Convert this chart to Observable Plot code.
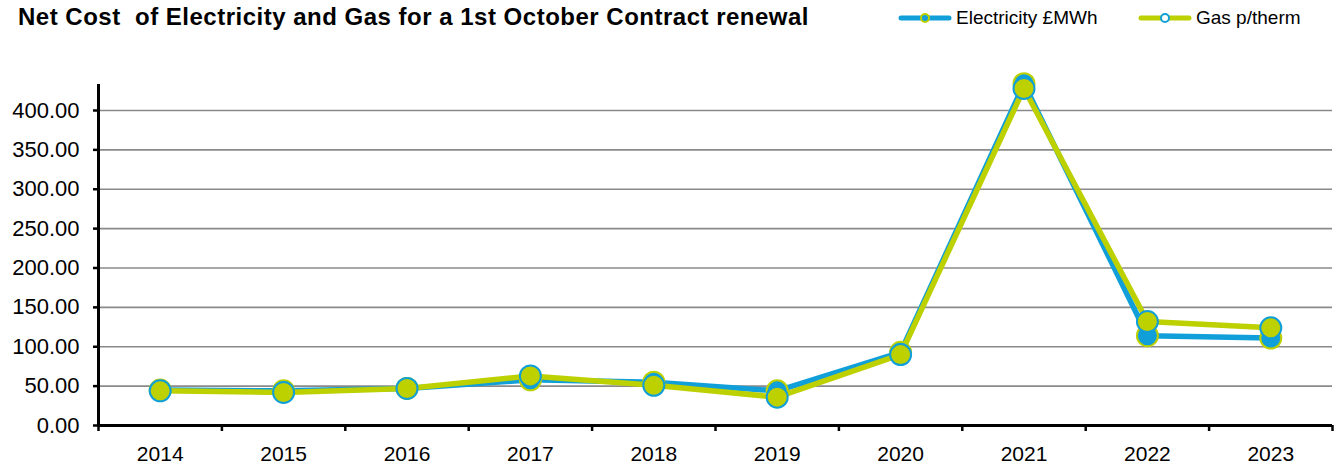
<!DOCTYPE html>
<html>
<head>
<meta charset="utf-8">
<script src="https://cdn.jsdelivr.net/npm/d3@7"></script>
<script src="https://cdn.jsdelivr.net/npm/@observablehq/plot@0.6"></script>
<style>
  html, body { margin: 0; padding: 0; background: #fff; }
  #wrap { position: relative; width: 1339px; height: 466px; font-family: "Liberation Sans", Arial, sans-serif; }
  #title { position: absolute; left: 18px; top: 3px; font-size: 24px; letter-spacing: 0.5px; font-weight: bold; color: #000; white-space: pre; }
  .leg { position: absolute; top: 7px; font-size: 19px; color: #000; display: flex; align-items: center; white-space: pre; }
  .leg svg { margin-right: 4px; }
  #chart { position: absolute; left: 0; top: 40px; }
</style>
</head>
<body>
<div id="wrap">
  <div id="title">Net Cost  of Electricity and Gas for a 1st October Contract renewal</div>
  <div class="leg" id="leg1" style="left:898px"></div>
  <div class="leg" id="leg2" style="left:1138px"></div>
  <div id="chart"></div>
</div>
<script>
const years = [2014, 2015, 2016, 2017, 2018, 2019, 2020, 2021, 2022, 2023];
const electricity = [45, 44, 47, 58, 55, 44, 93, 434, 114, 111];
const gas = [44, 42, 47, 63, 51, 36, 90, 428, 132, 124];
const yTicks = [0, 50, 100, 150, 200, 250, 300, 350, 400];
const seriesNames = ["Electricity £MWh", "Gas p/therm"];

const BLUE = "#119fd9";
const GREEN = "#bdd000";

const elecData = years.map((y, i) => ({year: y, value: electricity[i]}));
const gasData = years.map((y, i) => ({year: y, value: gas[i]}));
const edges = years.map(y => y - 0.5).concat([years[years.length - 1] + 0.5]);

const chart = Plot.plot({
  width: 1339,
  height: 426,
  marginTop: 44,
  marginBottom: 41,
  marginLeft: 98,
  marginRight: 7,
  x: {domain: [edges[0], edges[edges.length - 1]]},
  y: {domain: [0, 433]},
  style: {fontFamily: "Liberation Sans, Arial, sans-serif", fontSize: "21px", color: "#000", background: "#fff", overflow: "visible"},
  marks: [
    Plot.gridY(yTicks.filter(d => d > 0), {stroke: "#8a8a8a", strokeOpacity: 1, strokeWidth: 1.6}),
    Plot.axisY({ticks: yTicks, tickFormat: d => d.toFixed(2), tickSize: 5, tickPadding: 14, label: null, stroke: "#000", strokeWidth: 2.5, fontSize: 22}),
    Plot.axisX({ticks: years, tickFormat: d => String(d), tickSize: 0, tickPadding: 21, label: null, fontSize: 21}),
    Plot.axisX({ticks: edges, tickFormat: () => "", tickSize: 6, label: null, stroke: "#000", strokeWidth: 2.5}),
    Plot.ruleY([0], {stroke: "#000", strokeWidth: 3}),
    Plot.ruleX([edges[0]], {stroke: "#000", strokeWidth: 3}),
    Plot.line(elecData, {x: "year", y: "value", stroke: BLUE, strokeWidth: 5.5}),
    Plot.line(gasData, {x: "year", y: "value", stroke: GREEN, strokeWidth: 5.5}),
    Plot.dot(elecData, {x: "year", y: "value", r: 10.5, fill: BLUE, stroke: GREEN, strokeWidth: 2}),
    Plot.dot(gasData, {x: "year", y: "value", r: 10.5, fill: GREEN, stroke: BLUE, strokeWidth: 2})
  ]
});
document.getElementById("chart").appendChild(chart);

function swatch(lineColor, dotFill, dotStroke) {
  return `<svg width="54" height="12"><line x1="3" y1="6" x2="51" y2="6" stroke="${lineColor}" stroke-width="5" stroke-linecap="round"/><circle cx="27" cy="6" r="4" fill="${dotFill}" stroke="${dotStroke}" stroke-width="2"/></svg>`;
}
document.getElementById("leg1").innerHTML = swatch(BLUE, BLUE, GREEN) + "<span>" + seriesNames[0] + "</span>";
document.getElementById("leg2").innerHTML = swatch(GREEN, "#ffffff", BLUE) + "<span>" + seriesNames[1] + "</span>";
</script>
</body>
</html>
